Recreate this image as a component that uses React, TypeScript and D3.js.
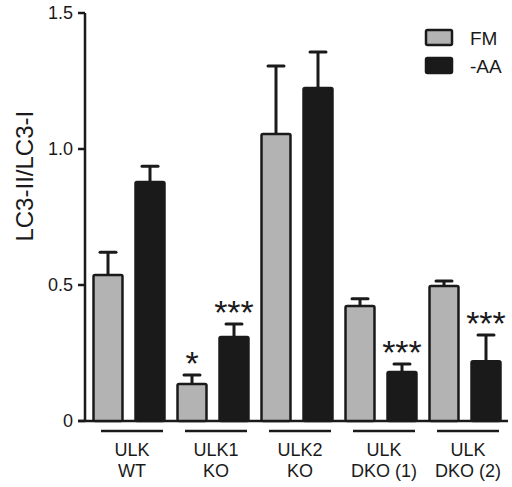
import React from "react";
import * as d3 from "d3";

const groupTop = ["ULK", "ULK1", "ULK2", "ULK", "ULK"];
const groupBottom = ["WT", "KO", "KO", "DKO (1)", "DKO (2)"];
const series = ["FM", "-AA"];
const fmMean = [0.537, 0.136, 1.055, 0.423, 0.496];
const fmSem = [0.083, 0.033, 0.25, 0.026, 0.019];
const aaMean = [0.879, 0.309, 1.224, 0.18, 0.22];
const aaSem = [0.058, 0.048, 0.133, 0.03, 0.096];
const fmSig = ["", "*", "", "", ""];
const aaSig = ["", "***", "", "***", "***"];
const yTicks = [0, 0.5, 1.0, 1.5];

const W = 512, H = 487;
const font = "'Liberation Sans', Arial, sans-serif";
const dark = "#1a1a1a";
const colors = ["#b3b3b3", dark];

export default function App() {
  const y = d3.scaleLinear().domain([0, 1.5]).range([421, 13]);
  const x0 = d3.scaleBand().domain(groupTop.map((_, i) => String(i))).range([87, 507]);
  const x1 = d3.scaleBand().domain(series).range([0, x0.bandwidth()]).paddingInner(0.31).paddingOuter(0.155);
  const means = [fmMean, aaMean];
  const sems = [fmSem, aaSem];
  const sigs = [fmSig, aaSig];
  const starSize = 34;

  return (
    <svg width={W} height={H} style={{ position: "absolute", left: 0, top: 0, background: "#fff" }} fontFamily={font}>
      {/* axes */}
      <line x1={85} x2={85} y1={y(1.5)} y2={y(0)} stroke={dark} strokeWidth={2.5} />
      <line x1={78} x2={508} y1={y(0)} y2={y(0)} stroke={dark} strokeWidth={2.5} />
      {yTicks.map((t) => (
        <g key={t}>
          <line x1={78} x2={85} y1={y(t)} y2={y(t)} stroke={dark} strokeWidth={2.5} />
          <text x={73} y={y(t)} dy="0.36em" textAnchor="end" fontSize={18} fill={dark}>
            {t === 0 ? "0" : d3.format(".1f")(t)}
          </text>
        </g>
      ))}
      <text transform={`translate(33,${y(0.9)}) rotate(-90)`} textAnchor="middle" fontSize={24} fill={dark}>
        LC3-II/LC3-I
      </text>

      {/* bars */}
      {groupTop.map((_, gi) => {
        const gx = x0(String(gi))!;
        return (
          <g key={gi}>
            {series.map((s, si) => {
              const bx = gx + x1(s)!;
              const bw = x1.bandwidth();
              const m = means[si][gi];
              const top = m + sems[si][gi];
              const cx = bx + bw / 2;
              return (
                <g key={s}>
                  <line x1={cx} x2={cx} y1={y(m)} y2={y(top)} stroke={dark} strokeWidth={3} />
                  <line x1={cx - 8} x2={cx + 8} y1={y(top)} y2={y(top)} stroke={dark} strokeWidth={3} strokeLinecap="round" />
                  <rect x={bx} y={y(m)} width={bw} height={y(0) - y(m)} fill={colors[si]} stroke={dark} strokeWidth={2.5} rx={1.5} />
                  {sigs[si][gi] && (
                    <text x={cx} y={y(top) - 20 + 0.59 * starSize} textAnchor="middle" fontSize={starSize} fill={dark}>
                      {sigs[si][gi]}
                    </text>
                  )}
                </g>
              );
            })}
            <line x1={gx + 14} x2={gx + 76} y1={431} y2={431} stroke={dark} strokeWidth={2.5} />
            <text x={gx + 45} y={456} textAnchor="middle" fontSize={18} fill={dark}>{groupTop[gi]}</text>
            <text x={gx + 45} y={477} textAnchor="middle" fontSize={18} fill={dark}>{groupBottom[gi]}</text>
          </g>
        );
      })}

      {/* legend */}
      {series.map((s, i) => (
        <g key={s}>
          <rect x={426} y={30 + i * 28} width={26} height={15} fill={colors[i]} stroke={dark} strokeWidth={2.5} rx={1.5} />
          <text x={470} y={45 + i * 28} fontSize={19} fill={dark}>{s}</text>
        </g>
      ))}
    </svg>
  );
}
